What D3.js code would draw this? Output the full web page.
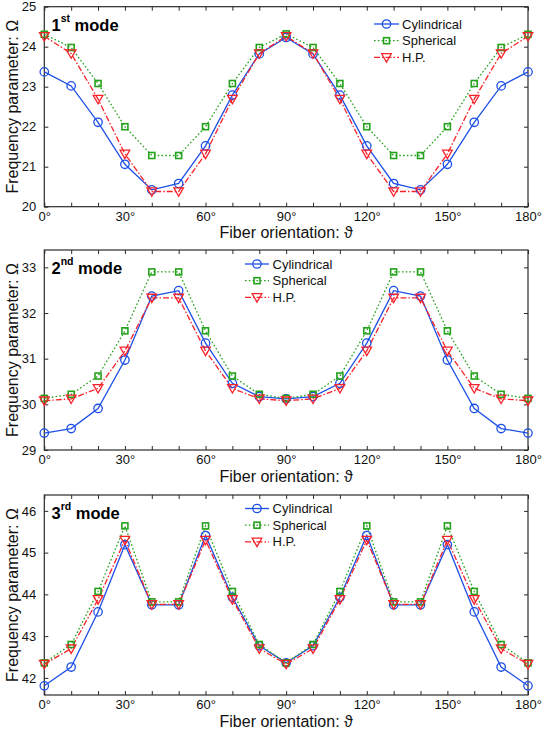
<!DOCTYPE html>
<html><head><meta charset="utf-8">
<script src="https://cdn.jsdelivr.net/npm/d3@7"></script>
<style>
body{margin:0;background:#fff}
svg{display:block;font-family:"Liberation Sans",Arial,Helvetica,sans-serif}
</style>
</head><body>
<svg id="chart" width="544" height="731"></svg>
<script>
// ---------- data ----------
const angles = [0,10,20,30,40,50,60,70,80,90,100,110,120,130,140,150,160,170,180];
const xTickLabels = [0,30,60,90,120,150,180];
const seriesNames = ["Cylindrical","Spherical","H.P."];
const modeNames = ["1","2","3"];
const modeSuffixes = ["st","nd","rd"];

const mode1Cylindrical = [23.37,23.02,22.11,21.06,20.42,20.58,21.52,22.79,23.82,24.23,23.82,22.79,21.52,20.58,20.42,21.06,22.11,23.02,23.37];
const mode1Spherical   = [24.31,23.98,23.08,22.00,21.28,21.28,22.00,23.08,23.98,24.32,23.98,23.08,22.00,21.28,21.28,22.00,23.08,23.98,24.31];
const mode1HP          = [24.26,23.83,22.69,21.32,20.38,20.38,21.32,22.69,23.83,24.26,23.83,22.69,21.32,20.38,20.38,21.32,22.69,23.83,24.26];

const mode2Cylindrical = [29.37,29.47,29.91,30.97,32.37,32.49,31.34,30.46,30.17,30.12,30.17,30.46,31.34,32.49,32.37,30.97,29.91,29.47,29.37];
const mode2Spherical   = [30.13,30.22,30.62,31.61,32.90,32.90,31.61,30.62,30.22,30.13,30.22,30.62,31.61,32.90,32.90,31.61,30.62,30.22,30.13];
const mode2HP          = [30.08,30.12,30.35,31.17,32.33,32.33,31.17,30.35,30.12,30.08,30.12,30.35,31.17,32.33,32.33,31.17,30.35,30.12,30.08];

const mode3Cylindrical = [41.81,42.26,43.58,45.19,43.75,43.75,45.41,43.93,42.77,42.36,42.77,43.93,45.41,43.75,43.75,45.19,43.58,42.26,41.81];
const mode3Spherical   = [42.36,42.80,44.07,45.64,43.82,43.82,45.64,44.07,42.80,42.36,42.80,44.07,45.64,43.82,43.82,45.64,44.07,42.80,42.36];
const mode3HP          = [42.33,42.70,43.88,45.30,43.76,43.76,45.30,43.88,42.70,42.33,42.70,43.88,45.30,43.76,43.76,45.30,43.88,42.70,42.33];

const mode1YTicks = [20,21,22,23,24,25];
const mode2YTicks = [29,30,31,32,33];
const mode3YTicks = [42,43,44,45,46];

// ---------- layout / style ----------
const svg = d3.select("#chart");
const left = 44.3, right = 528;
const colors = ["#1d4fe6", "#25a21c", "#f8222a"];
const dashes = [null, "1.6,2.2", "6,2,1.5,2"];
const frameColor = "#2a2a2a";

const panels = [
  {series:[mode1Cylindrical,mode1Spherical,mode1HP], top:6.7, bottom:206.7, domain:[20,25], ticks:mode1YTicks,
   legend:{x0:374, x1:399, tx:402, y:24}},
  {series:[mode2Cylindrical,mode2Spherical,mode2HP], top:250, bottom:450, domain:[29,33.38], ticks:mode2YTicks,
   legend:{x0:245, x1:269, tx:272.5, y:264}},
  {series:[mode3Cylindrical,mode3Spherical,mode3HP], top:495, bottom:695, domain:[41.59,46.38], ticks:mode3YTicks,
   legend:{x0:245, x1:269, tx:272.5, y:508.5}}
];

const x = d3.scaleLinear().domain([0,180]).range([left,right]);

function drawMarker(g, type, cx, cy, color){
  if(type===0){
    g.append("circle").attr("cx",cx).attr("cy",cy).attr("r",4.2)
      .attr("fill","none").attr("stroke",color).attr("stroke-width",1.3);
  } else if(type===1){
    g.append("rect").attr("x",cx-3).attr("y",cy-3).attr("width",6).attr("height",6)
      .attr("fill","none").attr("stroke",color).attr("stroke-width",1.6);
  } else {
    const w=4.8, h=4.2;
    g.append("path").attr("d",`M${cx-w},${cy-h+0.5}L${cx+w},${cy-h+0.5}L${cx},${cy+h+0.5}Z`)
      .attr("fill","none").attr("stroke",color).attr("stroke-width",1.3);
  }
}

panels.forEach((p, pi) => {
  const y = d3.scaleLinear().domain(p.domain).range([p.bottom,p.top]);
  const g = svg.append("g");

  // frame
  g.append("rect").attr("x",left).attr("y",p.top).attr("width",right-left).attr("height",p.bottom-p.top)
    .attr("fill","none").attr("stroke",frameColor).attr("stroke-width",1.2);

  // axes
  const styleAxis = sel => {
    sel.select(".domain").remove();
    sel.selectAll(".tick line").attr("stroke",frameColor).attr("stroke-width",1);
    sel.selectAll(".tick text").attr("fill","#111").attr("font-size","13px")
      .attr("font-family",'"Liberation Sans",Arial,sans-serif');
  };
  g.append("g").attr("transform",`translate(0,${p.bottom})`)
    .call(d3.axisBottom(x).tickValues(angles).tickSize(-4).tickPadding(5)
      .tickFormat(d => xTickLabels.includes(d) ? d + "\u00B0" : ""))
    .call(styleAxis);
  g.append("g").attr("transform",`translate(0,${p.top})`)
    .call(d3.axisTop(x).tickValues(angles).tickSize(-4).tickFormat(""))
    .call(styleAxis);
  g.append("g").attr("transform",`translate(${left},0)`)
    .call(d3.axisLeft(y).tickValues(p.ticks).tickSize(-4).tickPadding(8).tickFormat(d3.format("d")))
    .call(styleAxis);
  g.append("g").attr("transform",`translate(${right},0)`)
    .call(d3.axisRight(y).tickValues(p.ticks).tickSize(-4).tickFormat(""))
    .call(styleAxis);

  // series
  const line = d3.line().x((d,i)=>x(angles[i])).y(d=>y(d));
  p.series.forEach((vals, si) => {
    g.append("path").datum(vals).attr("d",line).attr("fill","none")
      .attr("stroke",colors[si]).attr("stroke-width",1.3)
      .attr("stroke-dasharray",dashes[si]);
  });
  p.series.forEach((vals, si) => {
    const mg = g.append("g");
    vals.forEach((v,i) => drawMarker(mg, si, x(angles[i]), y(v), colors[si]));
  });

  // legend
  const L = p.legend;
  seriesNames.forEach((name, si) => {
    const ly = L.y + si*16.7;
    g.append("line").attr("x1",L.x0).attr("x2",L.x1).attr("y1",ly).attr("y2",ly)
      .attr("stroke",colors[si]).attr("stroke-width",1.3).attr("stroke-dasharray",dashes[si]);
    drawMarker(g, si, (L.x0+L.x1)/2, ly, colors[si]);
    g.append("text").attr("x",L.tx).attr("y",ly).attr("dy","0.35em")
      .attr("font-size","13px").attr("fill","#111").text(name);
  });

  // mode label
  const t = g.append("text").attr("x",51.5).attr("y",p.top+24)
    .attr("font-size","16.5px").attr("font-weight","bold").attr("fill","#000");
  t.append("tspan").text(modeNames[pi]);
  t.append("tspan").attr("dy","-9").attr("font-size","10.5px").text(modeSuffixes[pi]);
  t.append("tspan").attr("dy","9").text(" mode");

  // axis titles
  g.append("text").attr("x",(left+right)/2).attr("y",p.bottom+31.5)
    .attr("text-anchor","middle").attr("font-size","16px").attr("fill","#111")
    .text("Fiber orientation: \u03D1");
  g.append("text").attr("transform",`translate(18,${(p.top+p.bottom)/2}) rotate(-90)`)
    .attr("text-anchor","middle").attr("font-size","16px").attr("fill","#111")
    .text("Frequency parameter: \u03A9");
});
</script>
</body></html>
